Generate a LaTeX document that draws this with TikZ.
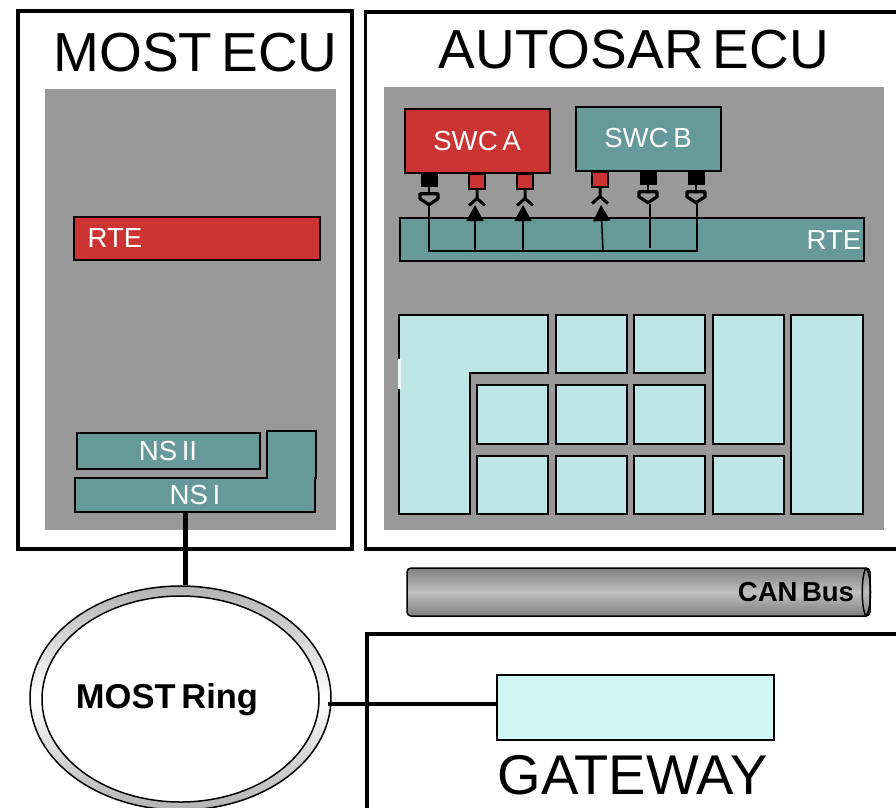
\documentclass[tikz,border=0pt]{standalone}
\usepackage{fontspec}
\setmainfont[WordSpace=0.6]{Liberation Sans}
\usetikzlibrary{shapes.geometric, arrows.meta}

\definecolor{panelgray}{HTML}{999999}
\definecolor{rtered}{HTML}{CC3333}
\definecolor{nsteal}{HTML}{669999}
\definecolor{blocklight}{HTML}{BFE6E6}
\definecolor{gatelight}{HTML}{CFF5F5}

\tikzset{
  bigtext/.style={font=\fontsize{55}{55}\selectfont, inner sep=0pt},
  whitetext/.style={text=white, font=\fontsize{27.6}{27}\selectfont, inner sep=0pt},
  boldtext/.style={font=\bfseries\fontsize{27.5}{27}\selectfont, inner sep=0pt},
  swc/.style={draw, line width=2.6pt, fill=#1},
  block/.style={draw, line width=2.4pt, fill=blocklight},
  redport/.style={draw, line width=2pt, fill=rtered, minimum width=16pt, minimum height=15pt, inner sep=0pt},
  blackport/.style={draw, fill=black, minimum width=16pt, minimum height=13pt, inner sep=0pt},
  wire/.style={line width=1.5pt},
  sender/.pic={
    \draw[line width=2.8pt] (0,0) -- (0,6);
    \draw[line width=3.2pt, line join=round] (-9,7) -- (9,7) -- (9,12) -- (0,18) -- (-9,12) -- cycle;
  },
  receiver/.pic={
    \draw[line width=3pt] (0,0) -- (0,9) (-8,16) -- (0,9) -- (8,16);
  },
}

\begin{document}
\begin{tikzpicture}[x=1pt, y=-1pt]
\path[use as bounding box, clip] (0, 0) rectangle (896, 807);

% ecu frames
\draw[line width=3.2pt] (18, 11) rectangle (352, 549);
\draw[line width=3.2pt] (365.5, 12) rectangle (910, 549);
\draw[line width=3.2pt] (367, 634) rectangle (910, 830);
\node[bigtext] (mosttitle) at (195.5, 53) {MOST ECU};
\node[bigtext] (autotitle) at (634, 50) {AUTOSAR ECU};
\node[bigtext, font=\fontsize{56}{56}\selectfont] (gatetitle) at (632.5, 775) {GATEWAY};

\fill[panelgray] (45, 89) rectangle (336, 530);
\fill[panelgray] (384, 87) rectangle (884, 530);

% most ecu
\draw[swc=rtered] (74, 217) rectangle (320, 260);
\node[whitetext] (rteleft) at (115, 238) {RTE};
\draw[swc=nsteal] (77, 433) rectangle (260, 469);
\node[whitetext] (nstwo) at (168, 451) {NS II};
\draw[swc=nsteal] (75, 478) -- (267, 478) -- (267, 431) -- (316, 431) -- (316, 478) -- (315, 478) -- (315, 512) -- (75, 512) -- cycle;
\node[whitetext] (nsone) at (195, 495) {NS I};

% autosar rte and software components
\draw[swc=nsteal] (400, 218) rectangle (864, 261);
\node[whitetext] (rteright) at (834, 240) {RTE};
\draw[swc=rtered] (405, 109) rectangle (550, 173);
\node[whitetext] (swca) at (477, 141) {SWC A};
\draw[swc=nsteal] (576, 107) rectangle (721, 171);
\node[whitetext] (swcb) at (648, 138) {SWC B};

\node[blackport] (porta) at (429, 180) {};
\node[redport] (portb) at (477, 181) {};
\node[redport] (portc) at (525, 181) {};
\node[redport] (portd) at (600, 179) {};
\node[blackport] (porte) at (648, 178) {};
\node[blackport] (portf) at (696, 178) {};
\pic at (porta.south) {sender};
\pic at (portb.south) {receiver};
\pic at (portc.south) {receiver};
\pic at (portd.south) {receiver};
\pic at (porte.south) {sender};
\pic at (portf.south) {sender};

\coordinate (tipa) at (429, 205);
\coordinate (tipb) at (475, 205);
\coordinate (tipc) at (523, 205);
\coordinate (tipd) at (601, 205);
\coordinate (tipe) at (650, 204);
\coordinate (tipf) at (697, 204);
\coordinate (busa) at (429, 251);
\coordinate (busb) at (475, 251);
\coordinate (busc) at (523, 252);
\coordinate (busd) at (603, 251);
\coordinate (buse) at (650, 248);
\coordinate (busf) at (697, 251);
\draw[wire] (tipa) -- (busa) -- (busf) -- (tipf);
\draw[wire, -{Triangle[width=17pt, length=16pt]}] (busb) -- (tipb);
\draw[wire, -{Triangle[width=17pt, length=16pt]}] (busc) -- (tipc);
\draw[wire, -{Triangle[width=17pt, length=16pt]}] (busd) -- (tipd);
\draw[wire] (buse) -- (tipe);

% bsw blocks
\draw[block] (399, 315) -- (548, 315) -- (548, 373) -- (470, 373) -- (470, 514) -- (399, 514) -- cycle;
\fill[blocklight!30!white] (398, 359) rectangle (400.5, 389);
\draw[block] (556, 315) rectangle (627, 373);
\draw[block] (634, 315) rectangle (705, 373);
\draw[block] (713, 315) rectangle (784, 444);
\draw[block] (791, 315) rectangle (863, 514);
\draw[block] (477, 385) rectangle (548, 444);
\draw[block] (556, 385) rectangle (627, 444);
\draw[block] (634, 385) rectangle (705, 444);
\draw[block] (477, 456) rectangle (548, 514);
\draw[block] (556, 456) rectangle (627, 514);
\draw[block] (634, 456) rectangle (705, 514);
\draw[block] (713, 456) rectangle (784, 514);

% can bus
\draw[line width=1.5pt, rounded corners=4pt, top color=black!50, bottom color=black!50, middle color=black!25]
  (407, 568) -- (870, 568) -- (870, 616) -- (407, 616) -- cycle;
\draw[line width=1.5pt] (866, 568) .. controls (861, 575) and (861, 609) .. (866, 616)
  .. controls (872, 609) and (872, 575) .. (866, 568);
\node[boldtext] (canbus) at (796, 592) {CAN Bus};

% most ring
\coordinate (nsport) at (185, 512);
\coordinate (ringport) at (328, 704);
\node[draw, ellipse, line width=1.5pt, minimum width=301pt, minimum height=224pt, inner sep=0pt,
  top color=black!30, bottom color=black!30, middle color=white] (ringouter) at (180.5, 698) {};
\node[draw, ellipse, line width=1.5pt, fill=white, minimum width=277pt, minimum height=206pt, inner sep=0pt] (ringinner) at (180.5, 699) {};
\node[boldtext, font=\bfseries\fontsize{34.5}{34}\selectfont] (ringlabel) at (167, 700) {MOST Ring};
\draw[line width=5pt] (nsport) -- (nsport |- ringouter.north);

% gateway
\node[draw, line width=2pt, fill=gatelight, minimum width=277pt, minimum height=65pt] (gatebox) at (635.5, 707.5) {};
\draw[line width=4pt] (ringport) -- (gatebox.west |- ringport);

\end{tikzpicture}
\end{document}
